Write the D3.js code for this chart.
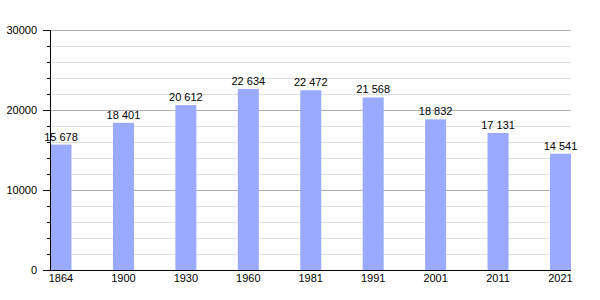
<!DOCTYPE html>
<html><head><meta charset="utf-8">
<script src="https://cdn.jsdelivr.net/npm/d3@7"></script>
<style>body{margin:0;background:#fff}svg{display:block}text{font-family:"Liberation Sans",Arial,sans-serif;fill:#000}</style>
</head><body><svg id="c" width="600" height="300"></svg>
<script>
const years = ["1864","1900","1930","1960","1981","1991","2001","2011","2021"];
const population = [15678,18401,20612,22634,22472,21568,18832,17131,14541];
const yTicks = [0,10000,20000,30000];

(function(){
const svg = d3.select("#c");
const mL = 50, mR = 571, mT = 30, mB = 270, barW = 21;
const x = d3.scalePoint().domain(years).range([mL + 11, mR - 10.5]);
const y = d3.scaleLinear().domain([0,30000]).range([mB, mT]);

const minor = d3.range(2000, 30001, 2000).filter(v => v % 10000 !== 0);
svg.append("g").selectAll("line").data(minor).join("line")
  .attr("x1", mL).attr("x2", mR).attr("y1", d => y(d)+0.5).attr("y2", d => y(d)+0.5)
  .attr("stroke", "#e0e0e0").attr("stroke-width", 1);
svg.append("g").selectAll("line").data(yTicks.filter(v => v > 0)).join("line")
  .attr("x1", mL).attr("x2", mR).attr("y1", d => y(d)+0.5).attr("y2", d => y(d)+0.5)
  .attr("stroke", "#b0b0b0").attr("stroke-width", 1);

svg.append("g").selectAll("rect").data(population).join("rect")
  .attr("x", (d,i) => x(years[i]) - barW/2)
  .attr("y", d => y(d))
  .attr("width", barW)
  .attr("height", d => mB - y(d))
  .attr("fill", "#99aaff");

const fmt = v => d3.format(",")(v).replace(/,/g, " ");
svg.append("g").selectAll("text").data(population).join("text")
  .attr("x", (d,i) => x(years[i]))
  .attr("y", d => y(d) - 4)
  .attr("text-anchor", "middle")
  .attr("font-size", 11)
  .text(d => fmt(d));

const allTicks = d3.range(0, 30001, 2000);
svg.append("g").selectAll("line").data(allTicks).join("line")
  .attr("x1", d => d % 10000 === 0 ? mL - 7 : mL - 3).attr("x2", mL)
  .attr("y1", d => y(d)+0.5).attr("y2", d => y(d)+0.5)
  .attr("stroke", "#000");
svg.append("g").selectAll("text").data(yTicks).join("text")
  .attr("x", 37).attr("y", d => y(d) + 4)
  .attr("text-anchor", "end").attr("font-size", 11)
  .text(d => d);

svg.append("line").attr("x1", mL+0.5).attr("x2", mL+0.5).attr("y1", mT).attr("y2", mB+1).attr("stroke", "#000");
svg.append("line").attr("x1", mL).attr("x2", mR).attr("y1", mB+0.5).attr("y2", mB+0.5).attr("stroke", "#000");

svg.append("g").selectAll("text").data(years).join("text")
  .attr("x", d => x(d)).attr("y", 282)
  .attr("text-anchor", "middle").attr("font-size", 11)
  .text(d => d);
})();
</script></body></html>
